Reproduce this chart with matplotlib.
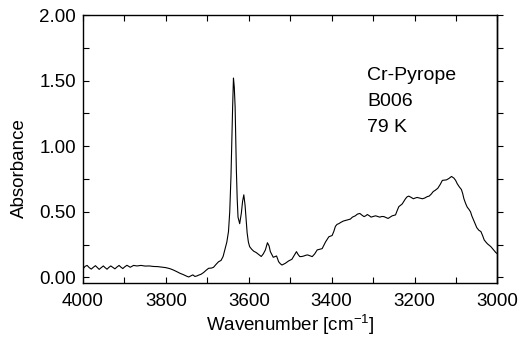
import matplotlib
matplotlib.use("Agg")
import matplotlib.pyplot as plt
from matplotlib.ticker import MultipleLocator, FormatStrFormatter

plt.rcParams['font.family'] = ['Liberation Sans', 'DejaVu Sans']
plt.rcParams['mathtext.fontset'] = 'custom'
plt.rcParams['mathtext.rm'] = 'Liberation Sans'
plt.rcParams['mathtext.default'] = 'regular'

wavenumber = [
    4000, 3995, 3990, 3985, 3980, 3975, 3970, 3966, 3961, 3956, 3951, 3947, 3942, 3938, 3933,
    3928, 3923, 3918, 3913, 3909, 3904, 3899, 3894, 3890, 3886, 3882, 3878,
    3870, 3860, 3850, 3840, 3830, 3820, 3810, 3800, 3790, 3782, 3774, 3766, 3758, 3750, 3745,
    3740, 3735, 3730, 3725, 3721, 3715, 3709, 3703, 3697, 3690, 3685, 3679, 3673, 3667, 3662,
    3657, 3653, 3649, 3646, 3643, 3641, 3639, 3637, 3635, 3633, 3631, 3630, 3628, 3626, 3622,
    3618, 3615, 3612, 3609, 3606, 3604, 3601, 3598, 3593, 3588, 3582, 3576, 3570, 3565, 3560,
    3555, 3551, 3548, 3541, 3536, 3533, 3528, 3524, 3520, 3512, 3504, 3496, 3490, 3485, 3481,
    3477, 3472, 3467, 3462, 3458, 3452, 3447, 3441, 3435, 3429, 3423, 3419, 3415, 3411, 3407,
    3403, 3399, 3395, 3391, 3387, 3383, 3378, 3372, 3366, 3361, 3355, 3350, 3343, 3338, 3332,
    3327, 3322, 3318, 3314, 3309, 3305, 3300, 3294, 3289, 3284, 3279, 3274, 3269, 3264, 3259,
    3254, 3246, 3242, 3238, 3234, 3230, 3226, 3222, 3218, 3214, 3208, 3203, 3199, 3194, 3188,
    3181, 3176, 3169, 3165, 3160, 3155, 3150, 3144, 3138, 3133, 3128, 3123, 3117, 3111, 3105,
    3101, 3097, 3092, 3087, 3084, 3081, 3077, 3073, 3069, 3065, 3062, 3058, 3054, 3050, 3045,
    3040, 3036, 3032, 3028, 3024, 3020, 3016, 3012, 3008, 3004, 3000,
]
absorbance = [
    0.065, 0.085, 0.092, 0.075, 0.064, 0.078, 0.090, 0.078, 0.062, 0.075, 0.088, 0.076, 0.063, 0.076, 0.088,
    0.077, 0.066, 0.080, 0.092, 0.080, 0.068, 0.082, 0.093, 0.085, 0.078, 0.085, 0.092,
    0.088, 0.092, 0.087, 0.088, 0.084, 0.083, 0.079, 0.075, 0.067, 0.057, 0.045, 0.032, 0.022, 0.010, 0.004,
    0.012, 0.020, 0.008, 0.012, 0.018, 0.025, 0.038, 0.055, 0.070, 0.072, 0.078, 0.100, 0.120, 0.130, 0.160,
    0.220, 0.270, 0.350, 0.500, 0.770, 1.050, 1.300, 1.520, 1.450, 1.300, 1.000, 0.820, 0.600, 0.460, 0.410,
    0.490, 0.580, 0.630, 0.550, 0.420, 0.340, 0.270, 0.235, 0.215, 0.200, 0.190, 0.175, 0.160, 0.180, 0.210,
    0.265, 0.240, 0.197, 0.154, 0.160, 0.164, 0.120, 0.105, 0.095, 0.108, 0.126, 0.139, 0.170, 0.197, 0.175,
    0.159, 0.160, 0.164, 0.170, 0.172, 0.165, 0.159, 0.180, 0.210, 0.215, 0.220, 0.245, 0.270, 0.290, 0.310,
    0.315, 0.320, 0.350, 0.390, 0.405, 0.410, 0.420, 0.430, 0.435, 0.440, 0.445, 0.460, 0.470, 0.483, 0.488,
    0.475, 0.464, 0.470, 0.480, 0.470, 0.460, 0.465, 0.470, 0.465, 0.460, 0.465, 0.464, 0.457, 0.450, 0.460,
    0.470, 0.477, 0.510, 0.540, 0.550, 0.560, 0.580, 0.600, 0.615, 0.620, 0.610, 0.600, 0.605, 0.610, 0.605,
    0.600, 0.605, 0.617, 0.620, 0.635, 0.655, 0.665, 0.680, 0.710, 0.740, 0.742, 0.744, 0.755, 0.770, 0.757,
    0.740, 0.714, 0.690, 0.670, 0.640, 0.600, 0.565, 0.536, 0.520, 0.500, 0.470, 0.440, 0.410, 0.380, 0.360,
    0.350, 0.320, 0.286, 0.270, 0.256, 0.245, 0.235, 0.220, 0.205, 0.190, 0.180,
]
annotation_lines = ["Cr-Pyrope", "B006", "79 K"]

fig = plt.figure(figsize=(5.27, 3.42), dpi=100)
ax = fig.add_axes([0.1575, 0.1725, 0.7865, 0.7835])
ax.plot(wavenumber, absorbance, color='black', lw=0.8)

ax.set_xlim(4000, 3000)
ax.set_ylim(-0.042, 2.0)

ax.xaxis.set_major_locator(MultipleLocator(200))
ax.xaxis.set_minor_locator(MultipleLocator(100))
ax.yaxis.set_major_locator(MultipleLocator(0.5))
ax.yaxis.set_minor_locator(MultipleLocator(0.25))
ax.yaxis.set_major_formatter(FormatStrFormatter('%.2f'))

ax.tick_params(axis='x', which='both', direction='in', top=True, bottom=True,
               length=4, width=0.8, labelsize=13.5, pad=7)
ax.tick_params(axis='y', which='both', direction='in', left=True, right=False,
               length=4, width=0.8, labelsize=13.5, pad=5)

sec = ax.secondary_yaxis('right')
sec.yaxis.set_major_locator(MultipleLocator(0.25))
sec.tick_params(axis='y', which='both', direction='out', length=4, width=0.8, labelright=False)
sec.spines['right'].set_linewidth(1.0)

for s in ax.spines.values():
    s.set_linewidth(1.0)

ax.set_xlabel('Wavenumber [cm$^{-1}$]', fontsize=13.5)
ax.xaxis.set_label_coords(0.5, -0.112)
ax.set_ylabel('Absorbance', fontsize=13.5)
ax.yaxis.set_label_coords(-0.133, 0.43)

y_positions = [1.508, 1.304, 1.105]
for line, yv in zip(annotation_lines, y_positions):
    ax.text(3314, yv, line, fontsize=14, ha='left', va='baseline')

fig.savefig('out.png', dpi=100)
